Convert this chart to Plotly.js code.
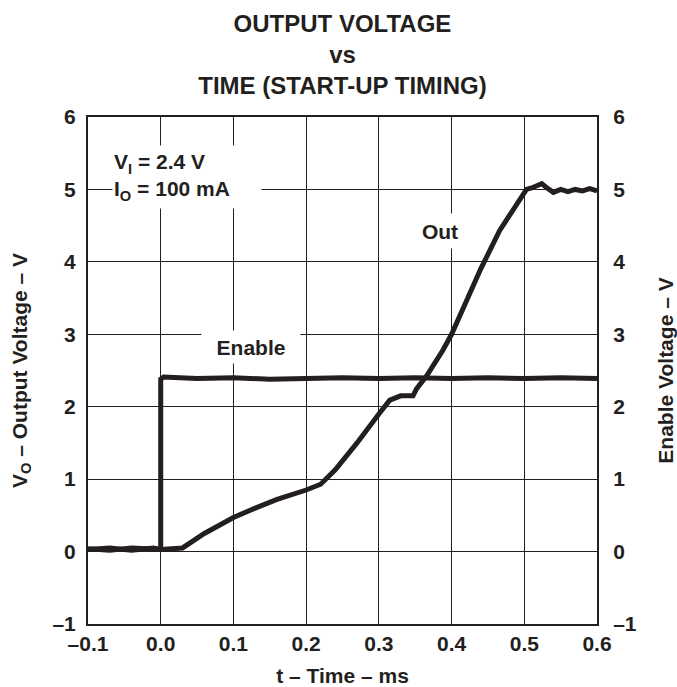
<!DOCTYPE html>
<html>
<head>
<meta charset="utf-8">
<script src="https://cdn.plot.ly/plotly-3.0.1.min.js"></script>
<style>html,body{margin:0;padding:0;background:#fff;}#chart{width:677px;height:687px;}</style>
</head>
<body>
<div id="chart"></div>
<script>
// Output voltage (V) vs time (ms)
const outTime = [-0.1, -0.07, -0.04, -0.01, 0.0, 0.02, 0.03, 0.06, 0.1, 0.13, 0.16, 0.2, 0.22, 0.24, 0.27, 0.3, 0.315, 0.33, 0.347, 0.352, 0.366, 0.388, 0.4, 0.42, 0.44, 0.466, 0.494, 0.503, 0.51, 0.524, 0.53, 0.54, 0.55, 0.56, 0.57, 0.58, 0.59, 0.6];
const outVolt = [0.03, 0.05, 0.02, 0.05, 0.03, 0.04, 0.05, 0.25, 0.47, 0.6, 0.72, 0.85, 0.93, 1.13, 1.5, 1.9, 2.09, 2.15, 2.15, 2.25, 2.43, 2.78, 3.0, 3.45, 3.9, 4.43, 4.88, 5.0, 5.02, 5.08, 5.03, 4.96, 5.0, 4.97, 5.0, 4.98, 5.01, 4.98];
// Enable voltage (V) vs time (ms)
const enTime = [-0.1, -0.07, -0.04, -0.01, 0.0, 0.0, 0.004, 0.05, 0.1, 0.15, 0.2, 0.25, 0.3, 0.35, 0.4, 0.45, 0.5, 0.55, 0.6];
const enVolt = [0.04, 0.02, 0.05, 0.03, 0.03, 2.38, 2.41, 2.39, 2.4, 2.38, 2.39, 2.4, 2.39, 2.4, 2.39, 2.4, 2.39, 2.4, 2.39];
// tick labels
const xTickVals = [-0.1, 0.0, 0.1, 0.2, 0.3, 0.4, 0.5, 0.6];
const xTickText = ['\u20130.1', '0.0', '0.1', '0.2', '0.3', '0.4', '0.5', '0.6'];
const yTickVals = [-1, 0, 1, 2, 3, 4, 5, 6];
const yTickText = ['\u20131', '0', '1', '2', '3', '4', '5', '6'];

const INK = '#231f20';
const FONT = 'Liberation Sans, Arial, Helvetica, sans-serif';
const tf = {family: FONT, size: 21, color: INK, weight: 'bold'};
const lf = {family: FONT, size: 21, color: INK, weight: 'bold'};

const traces = [
  {x: outTime, y: outVolt, type: 'scatter', mode: 'lines', name: 'Out',
   line: {color: INK, width: 5}, hoverinfo: 'skip'},
  {x: enTime, y: enVolt, type: 'scatter', mode: 'lines', name: 'Enable', yaxis: 'y2',
   line: {color: INK, width: 5}, hoverinfo: 'skip'}
];

const axisCommon = {
  range: [-1, 6], tickvals: yTickVals, ticktext: yTickText, tickfont: tf,
  showgrid: true, gridcolor: INK, gridwidth: 1, zeroline: false,
  showline: true, linecolor: INK, linewidth: 2,
  ticks: '', fixedrange: true
};

const layout = {
  width: 677, height: 687,
  margin: {l: 88, r: 80, t: 117, b: 63},
  paper_bgcolor: '#fff', plot_bgcolor: '#fff',
  showlegend: false,
  font: {family: FONT, color: INK},
  title: {text: 'OUTPUT VOLTAGE<br>vs<br>TIME (START-UP TIMING)',
          font: {family: FONT, size: 24, color: INK, weight: 'bold'},
          x: 0.5, xref: 'paper', xanchor: 'center', y: 1 - 32/687, yref: 'container', yanchor: 'top'},
  xaxis: {
    range: [-0.1, 0.6], tickvals: xTickVals, ticktext: xTickText, tickfont: tf,
    showgrid: true, gridcolor: INK, gridwidth: 1, zeroline: false,
    showline: true, linecolor: INK, linewidth: 2, mirror: true,
    ticks: '', ticklabelstandoff: 0,
    title: {text: 't \u2013 Time \u2013 ms', font: lf, standoff: 15}
  },
  yaxis: Object.assign({}, axisCommon, {
    side: 'left', ticklabelstandoff: 6,
    title: {text: 'V<sub>O</sub> \u2013 Output Voltage \u2013 V', font: lf, standoff: 19}
  }),
  yaxis2: Object.assign({}, axisCommon, {
    side: 'right', overlaying: 'y', ticklabelstandoff: 10, showgrid: false,
    title: {text: 'Enable Voltage \u2013 V', font: lf, standoff: 22}
  }),
  annotations: [
    {text: 'V<sub>I</sub> = 2.4 V<br>I<sub>O</sub> = 100 mA', x: 0.0358, y: 5.17, xref: 'x', yref: 'y',
     showarrow: false, align: 'left', bgcolor: '#fff', width: 146, height: 60, font: lf},
    {text: 'Enable', x: 0.124, y: 2.82, xref: 'x', yref: 'y', showarrow: false,
     bgcolor: '#fff', width: 96, height: 30, font: lf},
    {text: 'Out', x: 0.384, y: 4.43, xref: 'x', yref: 'y', showarrow: false,
     bgcolor: '#fff', width: 56, height: 32, font: lf}
  ]
};

Plotly.newPlot('chart', traces, layout, {staticPlot: true, displayModeBar: false});
</script>
</body>
</html>
